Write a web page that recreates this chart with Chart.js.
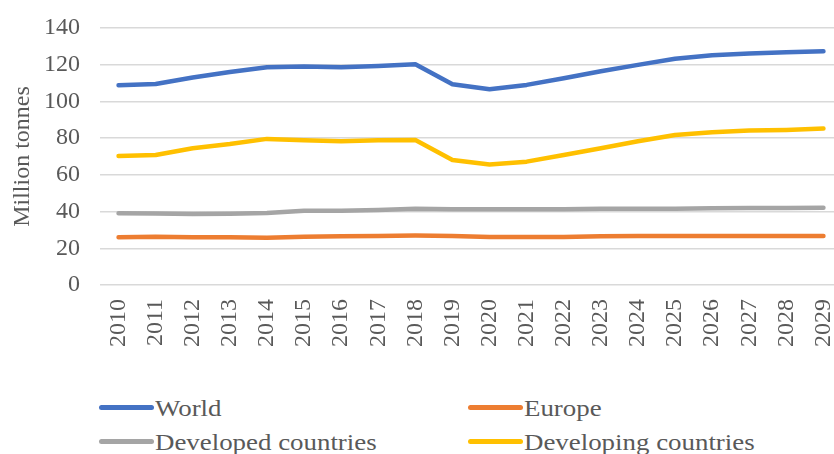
<!DOCTYPE html>
<html>
<head>
<meta charset="utf-8">
<script src="https://cdn.jsdelivr.net/npm/chart.js@4/dist/chart.umd.min.js"></script>
<style>
  html, body { margin: 0; padding: 0; background: #fff; overflow: hidden; }
  #wrap { position: relative; width: 834px; height: 454px; overflow: hidden; }
  #chart { position: absolute; left: 0; top: 0; }
  .leg { position: absolute; font-family: "Liberation Serif", "Times New Roman", serif;
         font-size: 24px; color: #595959; line-height: 28px; white-space: nowrap; }
  .leg span.sw { position: absolute; top: 11px; width: 55px; height: 5px; border-radius: 3px; }
  .leg span.tx { position: absolute; left: 56px; top: 0; transform: scaleX(1.12); transform-origin: 0 0; }
</style>
</head>
<body>
<div id="wrap">
  <canvas id="chart" width="842" height="360"></canvas>
  <div id="legend"></div>
</div>
<script>
const years = ['2010','2011','2012','2013','2014','2015','2016','2017','2018','2019',
               '2020','2021','2022','2023','2024','2025','2026','2027','2028','2029']
const world      = [108.8,109.5,113.0,116.0,118.6,119.0,118.6,119.3,120.2,109.4,
                    106.6,109.0,112.6,116.4,119.9,123.3,125.2,126.1,126.8,127.3]
const europe     = [26.0,26.3,26.0,26.0,25.8,26.3,26.5,26.7,26.9,26.7,
                    26.2,26.2,26.2,26.5,26.7,26.7,26.7,26.7,26.7,26.7]
const developed  = [39.1,39.0,38.7,38.8,39.2,40.5,40.5,40.9,41.6,41.2,
                    41.2,41.3,41.3,41.5,41.6,41.6,41.8,42.0,42.0,42.1]
const developing = [70.3,70.8,74.5,76.8,79.6,78.8,78.3,78.8,79.0,68.1,
                    65.6,67.2,70.8,74.5,78.3,81.7,83.2,84.1,84.5,85.2]
const yTicks = [0, 20, 40, 60, 80, 100, 120, 140]

const seriesNames  = ['World', 'Europe', 'Developed countries', 'Developing countries']
const seriesColors = ['#4472C4', '#ED7D31', '#A5A5A5', '#FFC000']
const seriesData   = [world, europe, developed, developing]

const font = { family: '"Liberation Serif", "Times New Roman", serif', size: 24 }

const datasets = seriesData.map((d, i) => ({
  label: seriesNames[i],
  data: d,
  borderColor: seriesColors[i],
  backgroundColor: seriesColors[i],
  borderWidth: 4.5,
  borderCapStyle: 'round',
  borderJoinStyle: 'round',
  pointRadius: 0,
  tension: 0
}))

// draw in order so the world line sits on top
const drawOrder = [2, 3, 1, 0]
datasets.forEach((ds, i) => { ds.order = drawOrder[i] })

const chart = new Chart(document.getElementById('chart'), {
  type: 'line',
  data: { labels: years, datasets: datasets },
  options: {
    responsive: false,
    animation: false,
    layout: { padding: { top: 28, right: 0, left: 0, bottom: 0 } },
    plugins: { legend: { display: false }, tooltip: { enabled: false } },
    scales: {
      x: {
        offset: true,
        grid: { display: false, drawTicks: false },
        border: { display: false },
        ticks: { font: font, color: '#595959', maxRotation: 90, minRotation: 90, padding: 14 },
        afterFit: s => {
          s.height = 75
          s.paddingLeft = 0
          s.paddingRight = 0
        }
      },
      y: {
        min: 0,
        max: 140,
        afterBuildTicks: s => { s.ticks = yTicks.map(v => ({ value: v })) },
        grid: { color: '#d9d9d9', lineWidth: 1.5, drawTicks: false },
        border: { display: false },
        ticks: { font: font, color: '#595959', padding: 20 },
        title: { display: true, text: 'Million tonnes', font: font, color: '#595959', padding: { top: 8, bottom: 0 } },
        afterFit: s => {
          s.width = 100
          s.paddingTop = 0
          s.paddingBottom = 0
        }
      }
    }
  }
})

// two-column legend under the chart
const legendPos = [[99, 394], [468, 394], [99, 428], [468, 428]]
const legend = document.getElementById('legend')
seriesNames.forEach((name, i) => {
  const item = document.createElement('div')
  item.className = 'leg'
  item.style.left = legendPos[i][0] + 'px'
  item.style.top = legendPos[i][1] + 'px'
  const sw = document.createElement('span')
  sw.className = 'sw'
  sw.style.background = seriesColors[i]
  const tx = document.createElement('span')
  tx.className = 'tx'
  tx.innerText = name
  item.appendChild(sw)
  item.appendChild(tx)
  legend.appendChild(item)
})
</script>
</body>
</html>
